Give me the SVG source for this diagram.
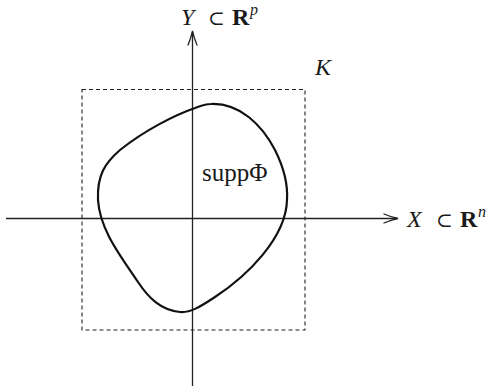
<svg xmlns="http://www.w3.org/2000/svg" width="496" height="386" viewBox="0 0 496 386">
<style>
.ax{stroke:#222;stroke-width:1.3;fill:none}
.head{stroke:#222;stroke-width:1.3;fill:none;stroke-linecap:round}
.box{stroke:#222;stroke-width:1.1;fill:none;stroke-dasharray:4 3}
.curve{stroke:#111;stroke-width:2.2;fill:none}
text{font-family:"Liberation Serif","DejaVu Serif",serif;fill:#1a1a1a}
.it{font-style:italic}
.bf{font-weight:bold}
.rel{font-family:"DejaVu Serif",serif;font-size:20px}
.sup{font-style:italic;font-size:16px}
</style>
<rect width="496" height="386" fill="#fff"/>
<g id="box-K">
<rect class="box" x="82" y="89.5" width="223" height="240.5"/>
<text class="it" x="315" y="75" font-size="24">K</text>
</g>
<g id="connectors">
<line class="ax" x1="6" y1="218.5" x2="397" y2="218.5"/>
<path class="head" d="M384,214 Q391,217 398,218.5 Q391,220 384,223"/>
<line class="ax" x1="192.5" y1="386" x2="192.5" y2="32"/>
<path class="head" d="M188,45 Q191,38 192.5,31 Q194,38 197,45"/>
</g>
<g id="label-Y">
<text font-size="24" y="25"><tspan class="it" x="181">Y</tspan><tspan class="rel" x="208">⊂</tspan><tspan class="bf" x="232">R</tspan><tspan class="sup" x="250" y="15">p</tspan></text>
</g>
<g id="label-X">
<text font-size="24" y="227"><tspan class="it" x="407">X</tspan><tspan class="rel" x="436">⊂</tspan><tspan class="bf" x="460">R</tspan><tspan class="sup" x="478" y="217">n</tspan></text>
</g>
<g id="supp">
<path class="curve" d="M211,104 C240,103 262,125 275,150 C284,168 288,185 287,200 C286,238 247,276 215,297 C200,307 190,313 180,312 C160,310 148,297 138,282 C120,255 100,230 98,200 C97,175 105,163 120,150 C145,130 175,115 195,108 C200,106 205,104 211,104 Z"/>
<text x="202" y="181" font-size="25">suppΦ</text>
</g>
</svg>
